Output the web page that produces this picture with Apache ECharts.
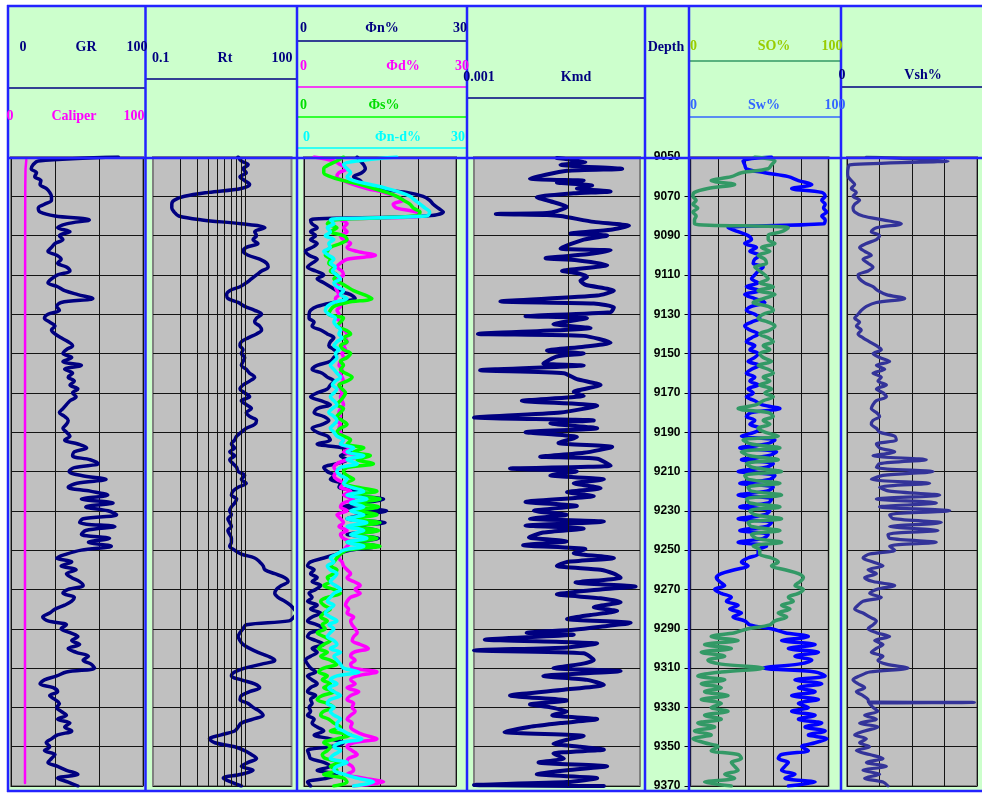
<!DOCTYPE html>
<html>
<head>
<meta charset="utf-8">
<script src="https://cdn.jsdelivr.net/npm/echarts@6/dist/echarts.min.js"></script>
<style>
html, body { margin: 0; padding: 0; background: #fff; }
#chart { width: 982px; height: 793px; }
</style>
</head>
<body>
<div id="chart"></div>
<script>
// глубина, шаг 2 ft
const depth = [
  9050,9052,9054,9056,9058,9060,9062,9064,9066,9068,9070,
  9072,9074,9076,9078,9080,9082,9084,9086,9088,9090,
  9092,9094,9096,9098,9100,9102,9104,9106,9108,9110,
  9112,9114,9116,9118,9120,9122,9124,9126,9128,9130,
  9132,9134,9136,9138,9140,9142,9144,9146,9148,9150,
  9152,9154,9156,9158,9160,9162,9164,9166,9168,9170,
  9172,9174,9176,9178,9180,9182,9184,9186,9188,9190,
  9192,9194,9196,9198,9200,9202,9204,9206,9208,9210,
  9212,9214,9216,9218,9220,9222,9224,9226,9228,9230,
  9232,9234,9236,9238,9240,9242,9244,9246,9248,9250,
  9252,9254,9256,9258,9260,9262,9264,9266,9268,9270,
  9272,9274,9276,9278,9280,9282,9284,9286,9288,9290,
  9292,9294,9296,9298,9300,9302,9304,9306,9308,9310,
  9312,9314,9316,9318,9320,9322,9324,9326,9328,9330,
  9332,9334,9336,9338,9340,9342,9344,9346,9348,9350,
  9352,9354,9356,9358,9360,9362,9364,9366,9368,9370
];

// GR, 0-150
const gr = [
  122,31,25,23,29,27,34,33,40,44,46,
  46,38,31,33,50,89,63,53,67,55,
  59,50,46,42,52,57,53,63,67,53,
  46,42,53,61,76,93,57,52,55,42,
  38,44,50,46,50,57,65,70,63,59,
  69,59,80,61,70,65,72,67,76,70,
  74,67,63,59,55,61,65,63,59,63,
  67,61,76,86,72,70,90,99,72,66,
  80,108,75,65,90,110,80,116,85,110,
  120,82,78,118,85,80,112,88,114,80,
  63,52,69,57,74,63,69,78,82,65,
  59,72,69,61,50,44,36,42,63,57,
  67,76,69,78,65,74,88,82,91,95,
  63,52,38,33,48,53,44,50,55,52,
  57,63,53,67,61,69,53,46,40,44,
  38,50,46,42,53,63,76,53,65,76
];

const caliperDepth = [9051.5, 9056, 9065, 9100, 9200, 9300, 9368.5];
const caliper = [11.6, 11.0, 10.8, 10.7, 10.6, 10.6, 10.6];

// Rt, 0.1-3.2 (log)
const rt = [
  0.84,0.91,1.08,0.95,1.03,0.88,0.99,1.12,0.91,0.40,0.22,
  0.17,0.16,0.16,0.17,0.19,0.34,0.91,1.64,1.27,1.33,
  1.22,1.38,1.03,0.95,1.08,1.44,1.71,1.78,1.51,1.33,
  1.17,1.03,0.88,0.68,0.63,0.65,0.84,0.99,1.27,1.51,
  1.33,1.27,1.44,1.51,1.33,1.08,0.91,0.88,0.95,0.91,
  0.99,0.95,0.91,1.03,1.12,1.27,1.12,0.95,0.88,0.99,
  1.12,0.91,1.03,1.17,1.03,1.12,1.33,1.27,1.03,0.91,
  0.81,0.77,0.71,0.77,0.68,0.77,0.68,0.74,0.81,0.84,
  0.99,0.91,1.03,0.84,0.74,0.71,0.81,0.77,0.71,0.68,
  0.71,0.65,0.68,0.71,0.65,0.68,0.71,0.71,0.68,0.77,
  0.91,1.27,1.44,1.57,1.64,2.10,2.70,2.93,2.48,2.19,
  2.10,2.28,2.70,3.10,3.40,3.60,3.40,3.00,1.03,0.95,
  0.88,0.84,0.88,0.95,1.12,1.38,1.78,2.10,1.51,0.99,
  0.77,0.71,0.91,1.27,1.44,1.12,0.91,0.88,1.08,1.22,
  1.44,1.57,1.22,0.91,0.84,0.77,0.55,0.41,0.47,0.77,
  0.99,1.17,1.33,1.08,0.91,1.22,0.91,0.58,0.71,0.91
];
const rtGridValues = [0.2, 0.3, 0.4, 0.5, 0.6, 0.7, 0.8, 0.9, 1];

// пористость, 0-30
const phiN = [
  10.5,11.1,11.8,12.1,11.4,9.8,11.1,11.8,13.7,20.3,23.5,
  24.8,25.5,26.5,27.5,24.2,1.3,1.6,2.6,1.3,2.3,
  1.3,2.6,1.6,0.3,1.0,2.6,1.6,0.7,2.3,3.9,
  2.6,3.9,5.2,6.5,9.2,10.1,5.9,2.6,1.3,1.0,
  1.0,2.0,1.6,3.3,4.6,5.9,5.2,4.9,5.9,6.5,
  5.9,5.2,2.6,1.6,3.6,4.6,5.9,5.2,4.6,2.6,
  1.3,3.3,5.2,2.6,2.0,3.9,4.9,3.6,1.6,2.6,
  4.6,5.2,2.6,7.8,9.2,7.2,8.5,6.5,3.9,4.6,
  5.9,5.2,7.2,6.9,11.8,8.5,15.7,11.8,7.8,16.3,
  11.8,8.5,16.0,9.8,14.4,8.5,14.7,9.8,14.4,9.2,
  6.5,3.9,1.3,0.7,2.0,1.3,2.6,1.6,3.3,2.3,
  1.0,1.6,0.7,2.6,1.3,3.3,1.6,0.7,2.6,3.9,
  1.3,0.7,2.3,3.9,1.6,2.6,1.3,0.3,0.7,1.3,
  2.3,0.7,1.6,2.6,1.3,0.7,2.3,1.3,1.6,1.0,
  1.3,0.7,2.0,1.6,2.6,3.9,2.0,5.2,7.8,5.2,
  0.7,1.0,1.3,3.9,5.2,2.6,6.5,4.6,0.7,1.3
];
const phiD = [
  2.0,5.9,7.2,8.5,6.9,6.5,7.8,9.8,12.4,15.7,18.3,
  19.6,17.6,18.3,22.2,22.9,7.2,8.5,7.8,8.5,7.2,
  7.8,9.2,8.5,10.5,14.1,8.5,7.2,6.5,7.5,7.8,
  6.5,7.2,6.2,6.5,6.9,6.2,6.5,7.2,6.5,6.9,
  6.5,7.2,6.9,7.8,8.5,8.2,8.5,7.8,8.2,7.5,
  7.8,7.2,6.9,7.5,7.2,7.5,7.8,6.9,7.2,7.5,
  7.2,7.5,7.8,7.2,6.9,7.2,6.5,7.2,6.9,7.2,
  7.5,7.8,7.2,9.2,7.8,11.8,8.5,6.5,5.9,6.5,
  5.9,6.5,7.8,7.2,9.2,7.8,9.8,7.8,7.2,8.5,
  6.5,7.2,7.8,6.9,8.5,7.2,7.8,9.2,8.5,7.8,
  7.2,6.9,7.5,7.8,8.5,9.2,8.5,9.8,11.1,10.1,
  11.1,9.2,8.5,8.2,8.8,8.5,9.8,9.2,9.5,10.1,
  10.5,9.8,9.5,11.1,12.7,9.8,9.2,10.1,9.2,9.8,
  14.4,10.5,9.2,10.1,8.5,10.8,9.2,8.5,9.8,9.5,
  10.1,9.2,8.5,9.5,9.2,10.1,11.8,14.4,9.8,8.5,
  9.5,10.5,8.8,8.5,9.5,9.8,8.5,11.8,15.7,9.8
];
const phiS = [
  7.8,6.5,4.9,3.9,3.9,5.2,7.8,11.1,13.7,16.3,18.3,
  19.6,20.9,21.6,22.9,22.2,5.9,4.6,6.5,5.2,7.8,
  8.5,7.2,5.2,4.6,4.2,5.2,4.9,5.9,5.2,6.5,
  5.9,7.2,8.5,9.8,11.8,13.4,8.5,5.9,5.2,4.9,
  7.8,7.2,6.5,8.2,9.2,7.8,8.5,7.2,7.8,9.2,
  8.5,7.2,7.8,7.2,8.2,9.5,8.5,6.9,7.5,8.2,
  7.8,7.2,6.5,7.8,7.2,6.5,7.5,8.5,7.2,6.5,
  7.8,9.2,8.5,11.8,9.8,13.1,10.5,13.7,8.5,7.8,
  8.5,9.8,7.8,10.5,14.4,9.2,15.0,9.8,14.7,10.5,
  14.4,9.8,15.0,9.2,14.7,9.8,14.4,8.5,15.0,8.5,
  7.2,6.5,5.9,5.2,6.5,5.9,4.6,5.2,3.9,5.9,
  7.2,4.6,3.3,3.9,5.2,3.9,3.3,4.6,3.6,4.2,
  2.6,3.9,5.2,3.9,2.9,4.6,3.3,5.2,6.5,3.9,
  2.9,4.6,3.6,5.2,3.9,5.9,3.6,2.6,4.6,5.9,
  3.9,3.3,4.9,5.9,7.2,5.2,9.2,6.5,3.9,5.2,
  4.6,3.6,4.2,7.2,5.2,6.5,3.9,7.8,8.5,5.9
];
const phiND = [
  18.3,10.5,7.8,8.5,9.2,8.5,9.8,13.1,16.3,19.0,20.9,
  21.9,22.9,23.9,24.8,24.2,5.2,5.9,4.6,5.2,4.2,
  5.9,4.9,5.2,3.9,4.9,5.9,5.2,6.2,5.6,6.5,
  7.2,5.9,6.5,7.8,7.2,8.5,5.9,4.6,4.2,4.9,
  6.2,5.9,6.5,7.2,6.9,7.5,6.5,5.9,6.9,6.2,
  6.5,5.9,5.2,5.9,6.5,7.2,6.2,5.6,6.5,5.9,
  5.2,5.9,6.5,5.6,4.9,5.9,6.5,5.9,5.2,5.9,
  6.5,7.8,7.2,9.8,8.5,11.8,8.5,10.5,7.2,6.5,
  7.2,8.5,7.8,9.2,11.8,8.5,12.4,9.2,11.8,9.2,
  11.8,8.5,12.4,8.5,11.8,9.2,12.4,8.5,11.8,7.8,
  6.5,5.2,5.9,4.6,5.2,6.5,5.9,5.2,6.2,7.2,
  5.9,5.2,4.6,5.9,4.9,4.2,5.2,6.5,4.9,5.9,
  5.2,4.6,5.9,6.5,5.2,7.2,5.9,6.5,7.2,7.8,
  10.8,6.5,5.2,6.5,4.9,5.9,7.2,5.2,4.6,5.9,
  5.2,5.9,7.2,6.5,6.5,7.8,9.2,11.4,7.2,5.9,
  7.2,5.9,5.2,8.5,6.5,5.9,7.8,10.5,13.7,9.8
];

// проницаемость Kmd (log), свои отметки глубины
const kmdDepth = [
  9050.5,9052.5,9054,9056,9057,9061,9062,9063,9064.5,9066,
  9067.5,9068.5,9070.5,9072.5,9075.5,9077.5,9078.5,9079,9079.5,9080,
  9083,9085,9087,9089,9090,9092,9096.5,9097.5,9099.5,9101.5,
  9102.5,9105,9108,9109,9111,9113,9115,9118,9120.5,9123.5,
  9124.5,9126.5,9129,9131,9132,9135,9137,9140,9141,9144.5,
  9146.5,9148.5,9150,9151.5,9155,9156,9158.5,9160,9163,9166,
  9169.5,9171.5,9174,9176.5,9180,9182.5,9184,9185.5,9188,9190,
  9192.5,9195.5,9197.5,9200.5,9202.5,9203.5,9207,9208.5,9210,9212,
  9214,9216,9218.5,9220.5,9222.5,9225.5,9227.5,9230,9232,9234,
  9235.5,9237.5,9239,9241,9243.5,9245.5,9247.5,9249.5,9251.5,9254,
  9256,9258,9260,9262,9264,9266.5,9268.5,9270,9272.5,9274.5,
  9276.5,9279,9281,9283,9285,9287,9289,9290.5,9292,9293,
  9295.5,9297.5,9299.5,9301,9302.5,9306,9308,9310,9311.5,9314,
  9316,9318.5,9321,9324,9326.5,9328.5,9330,9332,9334,9336,
  9338,9340,9342.5,9344.5,9346.5,9348.5,9350,9351.5,9353.5,9356,
  9358,9360,9362,9364,9366,9368,9369.5,9370
];
const kmd = [
  0.0075,0.015,0.0082,0.0367,0.0096,0.0039,0.0144,0.0075,0.0177,0.0122,
  0.0277,0.0113,0.0046,0.0064,0.0096,0.0075,0.0059,0.0017,0.0059,0.0082,
  0.0184,0.0433,0.0277,0.0104,0.0255,0.0144,0.0082,0.0277,0.0156,0.0057,
  0.0122,0.0255,0.0085,0.0122,0.0156,0.0133,0.015,0.03,0.02,0.0019,
  0.0184,0.03,0.0277,0.0035,0.0156,0.0069,0.017,0.0011,0.0144,0.0277,
  0.0144,0.0059,0.0144,0.0075,0.0054,0.0144,0.00116,0.0089,0.0122,0.0217,
  0.0113,0.0144,0.0032,0.02,0.0082,0.001,0.0184,0.0064,0.02,0.0035,
  0.0122,0.0078,0.0288,0.0144,0.005,0.02,0.0277,0.0024,0.0122,0.0064,
  0.0235,0.0113,0.0217,0.0096,0.0184,0.0035,0.0122,0.0043,0.0096,0.0039,
  0.0235,0.0035,0.0144,0.0054,0.0038,0.0096,0.0033,0.015,0.0113,0.03,
  0.0096,0.0075,0.0217,0.03,0.0353,0.0118,0.0509,0.0217,0.0075,0.0217,
  0.0353,0.0184,0.0325,0.017,0.0096,0.0451,0.0217,0.0113,0.0036,0.0113,
  0.0013,0.02,0.0096,0.001,0.0144,0.0184,0.0133,0.0069,0.0353,0.0054,
  0.0156,0.0235,0.0089,0.0024,0.0096,0.0039,0.0064,0.0096,0.0067,0.02,
  0.0082,0.0038,0.0021,0.0144,0.0096,0.0069,0.0133,0.0235,0.0069,0.0089,
  0.0048,0.0255,0.0096,0.0046,0.02,0.0096,0.001,0.0235
];
const kmdGridValues = [0.002, 0.003, 0.004, 0.005, 0.006, 0.007, 0.008, 0.009, 0.01];

// насыщенность, 0-100
const sw = [
  58.7,38.1,39.3,40.5,53.9,70.9,78.2,87.9,73.3,95.1,97.6,
  95.1,97.6,96.4,98.8,95.1,97.6,96.4,27.2,34.5,41.7,
  44.2,39.3,47.8,43.0,50.2,46.6,45.4,52.7,49.0,46.6,
  44.2,49.0,40.5,50.2,39.3,46.6,53.9,44.2,40.5,46.6,
  50.2,44.2,39.3,43.0,49.0,44.2,40.5,46.6,43.0,49.0,
  46.6,41.7,50.2,44.2,40.5,46.6,43.0,49.0,41.7,45.4,
  40.5,46.6,51.5,64.8,44.2,40.5,46.6,43.0,50.2,46.6,
  36.9,61.2,55.0,35.7,62.4,56.3,36.9,60.0,53.9,34.5,
  61.2,57.5,35.7,60.0,55.1,34.5,58.7,56.3,35.7,57.5,
  53.9,34.5,58.7,55.1,35.7,56.3,52.7,34.5,55.1,49.0,
  49.0,41.7,36.9,41.7,32.0,22.3,18.7,21.1,24.8,17.5,
  22.3,29.6,26.0,34.5,28.4,36.9,30.8,39.3,43.0,58.7,
  68.4,85.4,66.0,90.3,70.9,92.7,75.7,87.9,78.2,52.7,
  90.3,97.6,75.7,95.1,78.2,90.3,73.3,92.7,78.2,85.4,
  73.3,90.3,78.2,95.1,83.0,97.6,85.4,98.8,90.3,80.6,
  85.4,66.0,63.6,70.9,68.4,66.0,75.7,68.4,90.3,70.9
];
const so = [
  46.6,61.2,58.7,56.3,36.9,29.6,15.0,32.0,12.6,2.9,1.7,
  4.1,1.7,5.3,1.7,4.1,2.9,2.9,70.9,66.0,56.3,
  56.3,61.2,51.5,57.5,49.0,53.9,55.1,46.6,50.2,53.9,
  56.3,50.2,60.0,49.0,61.2,52.7,45.4,56.3,60.0,52.7,
  49.0,56.3,61.2,57.5,50.2,56.3,60.0,52.7,57.5,50.2,
  52.7,58.7,49.0,56.3,60.0,52.7,57.5,50.2,58.7,53.9,
  60.0,52.7,47.8,34.5,56.3,60.0,52.7,57.5,49.0,53.9,
  63.6,38.1,44.2,64.8,36.9,43.0,63.6,40.5,45.4,66.0,
  39.3,42.0,64.8,41.7,44.2,66.0,40.5,43.0,64.8,43.0,
  46.6,66.0,41.7,44.2,64.8,44.2,47.8,66.0,45.4,50.2,
  50.2,58.7,63.6,58.7,68.4,78.2,81.8,79.4,75.7,81.8,
  78.2,70.9,74.5,66.0,72.1,63.6,69.7,61.2,57.5,41.7,
  32.0,15.0,34.5,10.2,29.6,7.8,24.8,12.6,22.3,52.7,
  22.3,5.3,24.8,7.8,22.3,10.2,27.2,7.8,22.3,15.0,
  27.2,10.2,22.3,5.3,17.5,2.9,15.0,1.7,10.2,19.9,
  15.0,34.5,36.9,29.6,32.0,34.5,24.8,32.0,10.2,29.6
];

// глинистость, 0-100
const vsh = [
  14.9,77.7,2.1,0.8,0.5,0.8,3.3,5.9,3.3,7.2,4.6,
  9.7,5.9,4.6,5.9,12.3,27.7,41.8,22.6,18.7,25.1,
  22.6,14.9,9.7,13.6,18.7,12.3,16.2,20.0,16.2,8.5,
  9.7,13.6,20.0,23.8,30.3,44.4,22.6,14.9,11.0,8.5,
  5.9,9.7,7.2,11.0,8.5,12.3,17.4,22.6,26.4,20.0,
  25.1,32.8,22.6,29.0,20.0,26.4,23.8,30.3,22.6,27.7,
  30.3,22.6,20.0,18.7,22.6,25.1,20.0,18.7,22.6,25.1,
  36.7,37.9,22.6,25.1,36.7,20.0,61.0,25.1,22.6,66.2,
  27.7,18.7,63.6,25.1,32.8,71.3,22.6,68.7,25.1,79.0,
  32.8,35.4,72.6,32.8,70.0,31.5,32.8,68.7,32.8,36.7,
  17.4,12.3,20.0,27.7,16.2,22.6,13.6,20.0,36.7,22.6,
  17.4,26.4,12.3,8.5,5.9,12.3,17.4,22.6,20.0,16.2,
  22.6,32.8,21.3,27.7,22.6,18.7,27.7,23.8,30.3,46.9,
  17.4,9.7,4.6,8.5,13.6,7.2,12.3,16.2,17.4,20.0,
  23.8,13.6,22.6,9.7,23.8,13.6,5.9,14.9,9.7,17.4,
  7.2,17.4,27.7,14.9,30.3,12.3,25.1,13.6,27.7,31.5
];
const vshSpikeDepth = [9327.2, 9327.5, 9327.8];
const vshSpike = [16.5, 98, 17];

const depthTicks = { min: 9050, max: 9370, step: 20 };

// ---------- вспомогательные ----------
const pairs = (vals, deps) => vals.map((v, i) => [v, deps[i]]);
const vshData = pairs(vsh, depth).concat(pairs(vshSpike, vshSpikeDepth)).sort((a, b) => a[1] - b[1]);

const NAVY = '#000080';
const BLUE = '#2323ff';
const GRID_LINE = '#141414';

const gridBoxes = [
  { left: 11, width: 132 },     // GR
  { left: 153, width: 138.5 },  // Rt
  { left: 304, width: 152 },    // Φ
  { left: 474, width: 166 },    // Kmd
  { left: 690.5, width: 138 },  // SO / Sw
  { left: 847, width: 130 }     // Vsh
];

const grid = gridBoxes.map(g => ({
  left: g.left, width: g.width, top: 157, height: 629,
  show: true, backgroundColor: '#c0c0c0', borderColor: '#808080', borderWidth: 2
}));

const yAxis = gridBoxes.map((g, i) => {
  const labels = i === 4;
  return {
    type: 'value', gridIndex: i, inverse: true,
    min: depthTicks.min, max: depthTicks.max, interval: depthTicks.step,
    axisLine: { show: false },
    axisTick: { show: labels, length: 6, lineStyle: { color: '#000', width: 1 } },
    axisLabel: {
      show: labels, margin: 10, color: '#000', fontFamily: 'Liberation Sans',
      fontWeight: 'bold', fontSize: 12, showMinLabel: true, showMaxLabel: true,
      formatter: v => String(v)
    },
    splitLine: { show: true, lineStyle: { color: GRID_LINE, width: 1 } }
  };
});

function valAxis(gi, min, max, interval, split) {
  return {
    type: 'value', gridIndex: gi, min, max, interval,
    axisLine: { show: false }, axisTick: { show: false }, axisLabel: { show: false },
    splitLine: { show: split, lineStyle: { color: GRID_LINE, width: 1 } }
  };
}
function logAxis(gi, min, max) {
  return {
    type: 'log', logBase: 10, gridIndex: gi, min, max,
    axisLine: { show: false }, axisTick: { show: false }, axisLabel: { show: false },
    splitLine: { show: false }
  };
}

const xAxis = [
  valAxis(0, 0, 150, 50, true),     // 0 GR
  valAxis(0, 0, 100, 25, false),    // 1 Caliper
  logAxis(1, 0.1, 3.19),            // 2 Rt
  valAxis(2, 0, 30, 7.5, true),     // 3 Φ
  logAxis(3, 0.001, 0.0566),        // 4 Kmd
  valAxis(4, 0, 100, 20, true),     // 5 SO/Sw
  valAxis(5, 0, 100, 25, true)      // 6 Vsh
];

function curve(name, xi, yi, data, color, width, smooth) {
  return {
    type: 'line', name, xAxisIndex: xi, yAxisIndex: yi, data,
    symbol: 'none', showSymbol: false, smooth: smooth, silent: true, z: 3,
    lineStyle: { color, width, join: 'round', cap: 'round' },
    itemStyle: { color }
  };
}

function logGrid(xi, yi, values) {
  return {
    type: 'line', xAxisIndex: xi, yAxisIndex: yi, data: [], z: 1, silent: true,
    markLine: {
      silent: true, symbol: ['none', 'none'], label: { show: false },
      lineStyle: { color: GRID_LINE, width: 1, type: 'solid' },
      emphasis: { disabled: true }, animation: false,
      data: values.map(v => ({ xAxis: v }))
    }
  };
}

const series = [
  logGrid(2, 1, rtGridValues),
  logGrid(4, 3, kmdGridValues),
  curve('Caliper', 1, 0, pairs(caliper, caliperDepth), '#ff00ff', 2.5, false),
  curve('GR', 0, 0, pairs(gr, depth), NAVY, 3.5, 0.35),
  curve('Rt', 2, 1, pairs(rt, depth), NAVY, 3.5, 0.35),
  curve('Φn%', 3, 2, pairs(phiN, depth), NAVY, 3.5, 0.35),
  curve('Φd%', 3, 2, pairs(phiD, depth), '#ff00ff', 3.5, 0.35),
  curve('Φs%', 3, 2, pairs(phiS, depth), '#00ff00', 3.5, 0.35),
  curve('Φn-d%', 3, 2, pairs(phiND, depth), '#00ffff', 3.5, 0.35),
  curve('Kmd', 4, 3, pairs(kmd, kmdDepth), NAVY, 4, 0.2),
  curve('Sw%', 5, 4, pairs(sw, depth), '#0000ff', 3.5, 0.35),
  curve('SO%', 5, 4, pairs(so, depth), '#339966', 3.5, 0.35),
  curve('Vsh%', 6, 5, vshData, '#333399', 3.2, 0.3)
];

// ---------- шапка и рамки ----------
function txt(s, x, y, color, align) {
  return {
    type: 'text', z: 120,
    style: {
      text: s, x, y, fill: color, textAlign: align || 'center', textVerticalAlign: 'middle',
      fontFamily: 'Liberation Serif', fontWeight: 'bold', fontSize: 14
    }
  };
}
function hline(x1, x2, y, color, w) {
  return { type: 'line', z: 60, shape: { x1, y1: y, x2, y2: y }, style: { stroke: color, lineWidth: w || 1.5 } };
}
function vline(x, y1, y2, color, w) {
  return { type: 'line', z: 100, shape: { x1: x, y1, x2: x, y2 }, style: { stroke: color, lineWidth: w || 2.5 } };
}

const graphic = [
  { type: 'rect', z: -10, shape: { x: 8, y: 6, width: 974, height: 785 }, style: { fill: '#ccffcc' } },

  hline(8, 145.5, 88, NAVY),
  hline(145.5, 297, 79, NAVY),
  hline(297, 467, 41, NAVY),
  hline(297, 467, 87, '#ff00ff'),
  hline(297, 467, 117, '#00ff00'),
  hline(297, 467, 148, '#00ffff'),
  hline(467, 645, 98, NAVY),
  hline(689, 841, 61, '#339966'),
  hline(689, 841, 117, '#3366ff'),
  hline(841, 982, 87, NAVY),

  vline(8, 5, 792, BLUE),
  vline(145.5, 5, 792, BLUE),
  vline(297, 5, 792, BLUE),
  vline(467, 5, 792, BLUE),
  vline(645, 5, 792, BLUE),
  vline(689, 5, 792, BLUE),
  vline(841, 5, 792, BLUE),
  { type: 'line', z: 100, shape: { x1: 7, y1: 6, x2: 982, y2: 6 }, style: { stroke: BLUE, lineWidth: 2.5 } },
  { type: 'line', z: 100, shape: { x1: 7, y1: 158, x2: 982, y2: 158 }, style: { stroke: BLUE, lineWidth: 2.5 } },
  { type: 'line', z: 100, shape: { x1: 7, y1: 791, x2: 982, y2: 791 }, style: { stroke: BLUE, lineWidth: 2.5 } },

  txt('0', 23, 47, NAVY), txt('GR', 86, 47, NAVY), txt('100', 137, 47, NAVY),
  txt('0', 10, 116, '#ff00ff'), txt('Caliper', 74, 116, '#ff00ff'), txt('100', 134, 116, '#ff00ff'),

  txt('0.1', 152, 58, NAVY, 'left'), txt('Rt', 225, 58, NAVY), txt('100', 282, 58, NAVY),

  txt('0', 300, 28, NAVY, 'left'), txt('Φn%', 382, 28, NAVY), txt('30', 460, 28, NAVY),
  txt('0', 300, 66, '#ff00ff', 'left'), txt('Φd%', 403, 66, '#ff00ff'), txt('30', 462, 66, '#ff00ff'),
  txt('0', 300, 105, '#00dd00', 'left'), txt('Φs%', 384, 105, '#00dd00'),
  txt('0', 303, 137, '#00ffff', 'left'), txt('Φn-d%', 398, 137, '#00ffff'), txt('30', 458, 137, '#00ffff'),

  txt('0.001', 479, 77, NAVY), txt('Kmd', 576, 77, NAVY),

  txt('Depth', 666, 47, NAVY),

  txt('0', 690, 46, '#99cc00', 'left'), txt('SO%', 774, 46, '#99cc00'), txt('100', 832, 46, '#99cc00'),
  txt('0', 690, 105, '#3366ff', 'left'), txt('Sw%', 764, 105, '#3366ff'), txt('100', 835, 105, '#3366ff'),

  txt('0', 842, 75, NAVY), txt('Vsh%', 923, 75, NAVY)
];

const chart = echarts.init(document.getElementById('chart'), null, { renderer: 'canvas' });
chart.setOption({
  animation: false,
  backgroundColor: '#ffffff',
  grid, xAxis, yAxis, series, graphic
});
</script>
</body>
</html>
